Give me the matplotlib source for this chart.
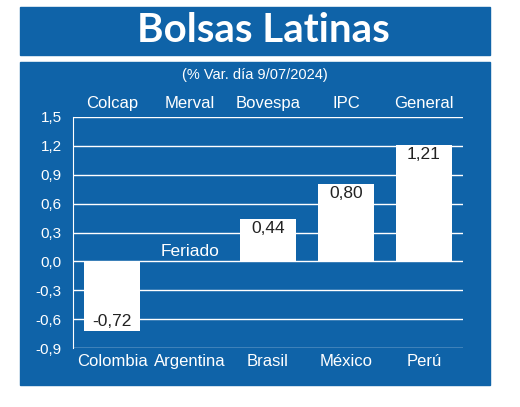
import matplotlib.pyplot as plt
from matplotlib.patches import Rectangle

countries = ['Colombia', 'Argentina', 'Brasil', 'México', 'Perú']
indices = ['Colcap', 'Merval', 'Bovespa', 'IPC', 'General']
values = [-0.72, None, 0.44, 0.80, 1.21]
labels = ['-0,72', 'Feriado', '0,44', '0,80', '1,21']
yticks = [1.5, 1.2, 0.9, 0.6, 0.3, 0.0, -0.3, -0.6, -0.9]

blue = '#0f63a8'
plt.rcParams['font.family'] = ['Liberation Sans', 'DejaVu Sans']

fig = plt.figure(figsize=(5.2, 4.07), dpi=100)
fig.patch.set_facecolor('white')
# title band and main panel
fig.patches.append(Rectangle((20 / 520, 1 - 55 / 407), 470 / 520, 48 / 407,
                             transform=fig.transFigure, color=blue, zorder=-5))
fig.patches.append(Rectangle((20 / 520, 1 - 385 / 407), 470 / 520, 323 / 407,
                             transform=fig.transFigure, color=blue, zorder=-5))
fig.text(0.507, 1 - 31 / 407, 'Bolsas Latinas', color='white', fontsize=29,
         fontweight='bold', ha='center', va='center', family='Lato')
fig.text(0.49, 1 - 75 / 407, '(% Var. día 9/07/2024)', color='white',
         fontsize=10.5, ha='center', va='center')

ax = fig.add_axes([73 / 520, 1 - 348 / 407, 390 / 520, 231 / 407])
ax.set_facecolor('none')
ax.set_xlim(-0.5, 4.5)
ax.set_ylim(-0.9, 1.5)
for t in yticks:
    ax.axhline(t, color='white', lw=1, zorder=1)
for s in ['top', 'right', 'bottom']:
    ax.spines[s].set_visible(False)
ax.spines['left'].set_color('white')
ax.set_yticks(yticks)
ax.set_yticklabels([f'{t:.1f}'.replace('.', ',') for t in yticks],
                   color='white', fontsize=11)
ax.tick_params(axis='y', length=0, pad=8)
ax.set_xticks(range(5))
ax.set_xticklabels(countries, color='white', fontsize=12)
ax.tick_params(axis='x', length=0, pad=4)
ax.set_ylim(-0.9, 1.5)

for i, v in enumerate(values):
    ax.text(i, 1.56, indices[i], color='white', fontsize=12,
            ha='center', va='bottom')
    if v is None:
        ax.text(i, 0.02, labels[i], color='white', fontsize=12.5,
                ha='center', va='bottom')
        continue
    ax.bar(i, v, width=0.73, color='white', zorder=2)
    ypos = v - 0.02 if v > 0 else v + 0.02
    ax.text(i, ypos, labels[i], color='#222222', fontsize=12.5, ha='center',
            va='top' if v > 0 else 'bottom', zorder=3)

fig.savefig('out.png', dpi=100)
